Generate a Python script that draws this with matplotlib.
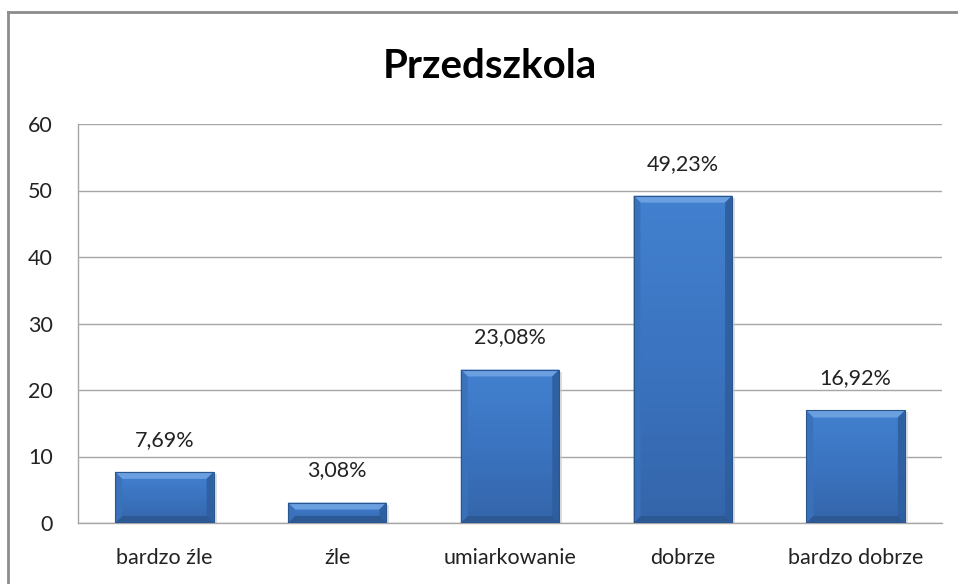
import matplotlib
matplotlib.use("Agg")
import matplotlib.pyplot as plt
import numpy as np
from matplotlib.patches import Polygon
from matplotlib.lines import Line2D
from matplotlib.colors import LinearSegmentedColormap

categories = ["bardzo źle", "źle", "umiarkowanie", "dobrze", "bardzo dobrze"]
values = [7.69, 3.08, 23.08, 49.23, 16.92]
labels = ["7,69%", "3,08%", "23,08%", "49,23%", "16,92%"]
yticks = [0, 10, 20, 30, 40, 50, 60]
title = "Przedszkola"

plt.rcParams['font.family'] = ['Lato', 'DejaVu Sans']

W, H = 958, 584
fig = plt.figure(figsize=(W / 100, H / 100), dpi=100)
fig.patch.set_facecolor("white")

# chart area frame
fig.add_artist(Line2D([8 / W, 8 / W], [0, 1 - 12 / H], transform=fig.transFigure,
                      color="#8c8c8c", lw=2))
fig.add_artist(Line2D([8 / W, 1], [1 - 12 / H, 1 - 12 / H], transform=fig.transFigure,
                      color="#8c8c8c", lw=2))

left, right, top, bottom = 78, 942, 124, 523
ax = fig.add_axes([left / W, 1 - bottom / H, (right - left) / W, (bottom - top) / H])
ax.set_xlim(-0.5, len(categories) - 0.5)
ax.set_ylim(0, 60)
ax.set_yticks(yticks)
ax.set_xticks(range(len(categories)))
ax.set_xticklabels(categories)
ax.tick_params(axis="both", length=0, labelsize=15.5, colors="#222222")
ax.tick_params(axis="y", pad=18)
ax.tick_params(axis="x", pad=18)
ax.yaxis.grid(True, color="#a6a6a6", lw=1)
ax.set_axisbelow(True)
for s in ["top", "right"]:
    ax.spines[s].set_visible(False)
for s in ["left", "bottom"]:
    ax.spines[s].set_color("#a6a6a6")
    ax.spines[s].set_linewidth(1)

cmap = LinearSegmentedColormap.from_list("face", ["#3465aa", "#3b74c0", "#4281d0"])
grad = np.linspace(0, 1, 256).reshape(-1, 1)

bw = 0.57
px_x = (len(categories)) / (right - left)
px_y = 60 / (bottom - top)
b = 7
for i, v in enumerate(values):
    x0, x1 = i - bw / 2, i + bw / 2
    bx, by = b * px_x, min(b * px_y, v / 2.5)
    # shadow
    ax.add_patch(Polygon([(x0 + 2 * px_x, 0), (x1 + 3 * px_x, 0), (x1 + 3 * px_x, v - 2 * px_y),
                          (x0 + 2 * px_x, v - 2 * px_y)], closed=True, fc="#c8c8c8",
                         ec="none", zorder=2, alpha=0.6))
    face = Polygon([(x0, 0), (x1, 0), (x1, v), (x0, v)], closed=True,
                   fc="none", ec="none", zorder=3)
    ax.add_patch(face)
    im = ax.imshow(grad, extent=(x0, x1, 0, v), origin="lower", cmap=cmap,
                   aspect="auto", zorder=3, interpolation="bilinear")
    im.set_clip_path(face)
    # bevels
    ax.add_patch(Polygon([(x0, v), (x1, v), (x1 - bx, v - by), (x0 + bx, v - by)],
                         fc="#6a9fe0", ec="none", zorder=4))
    ax.add_patch(Polygon([(x0, 0), (x1, 0), (x1 - bx, by), (x0 + bx, by)],
                         fc="#2c5893", ec="none", zorder=4))
    ax.add_patch(Polygon([(x0, 0), (x0, v), (x0 + bx, v - by), (x0 + bx, by)],
                         fc="#3a72bb", ec="none", zorder=4, alpha=0.9))
    ax.add_patch(Polygon([(x1, 0), (x1, v), (x1 - bx, v - by), (x1 - bx, by)],
                         fc="#2e5e9e", ec="none", zorder=4, alpha=0.9))
    ax.add_patch(Polygon([(x0, 0), (x1, 0), (x1, v), (x0, v)], closed=True,
                         fc="none", ec="#2a5690", lw=0.8, zorder=5))
    ax.annotate(labels[i], (i, v), xytext=(0, 23), textcoords="offset points",
                ha="center", va="center", fontsize=15.5, color="#222222")

ax.set_xlim(-0.5, len(categories) - 0.5)
ax.set_ylim(0, 60)

fig.text(490 / W, 1 - 66 / H, title, ha="center", va="center", fontsize=29,
         fontweight="bold", color="black")

fig.savefig("out.png", dpi=100)
